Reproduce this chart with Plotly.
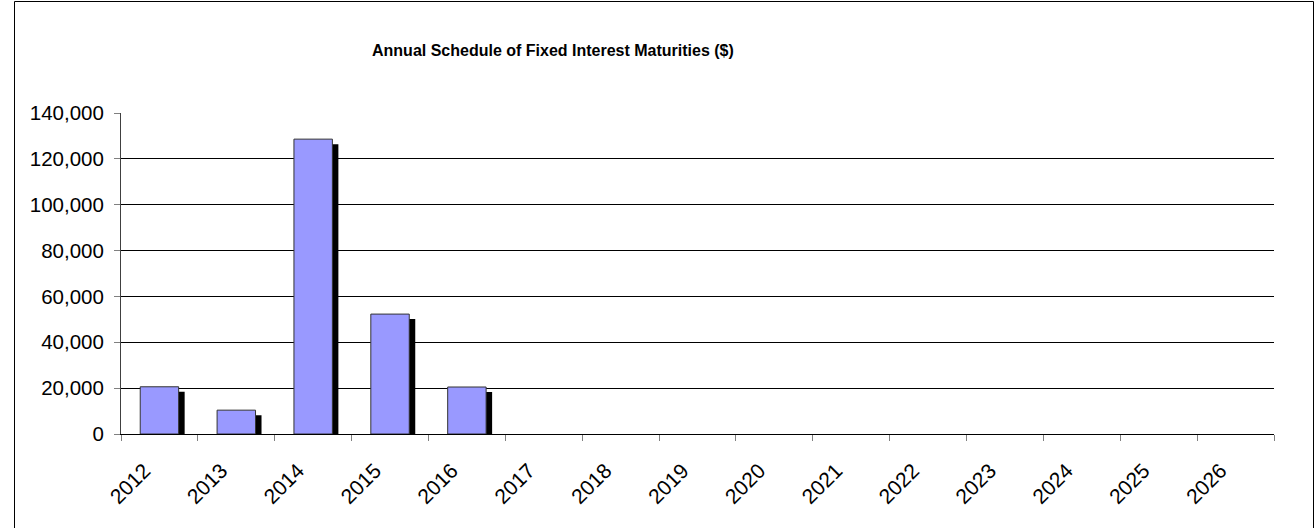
import plotly.graph_objects as go

years = [str(y) for y in range(2012, 2027)]
values = [20600, 10400, 128600, 52300, 20500, 0, 0, 0, 0, 0, 0, 0, 0, 0, 0]
title_text = "Annual Schedule of Fixed Interest Maturities ($)"
y_ticks = [0, 20000, 40000, 60000, 80000, 100000, 120000, 140000]

W, H = 1314, 528
L, T = 121, 113
R = W - 1274
B = H - 434
plot_w = W - L - R
plot_h = H - T - B
y_max = 140000
shadow_drop = 5 * y_max / plot_h  # ~5px shadow depth
cat_px = plot_w / len(years)
bar_w = 0.5
shadow_dx = 6 / cat_px

bar_vals = [v if v > 0 else None for v in values]
shadow_vals = [max(v - shadow_drop, 0) if v > 0 else None for v in values]


def px_x(page_x):
    return (page_x - L) / plot_w


def px_y(page_y):
    return (T + plot_h - page_y) / plot_h


fig = go.Figure()
fig.add_trace(go.Bar(
    x=years, y=shadow_vals, width=bar_w, offset=-bar_w / 2 + shadow_dx,
    marker=dict(color="black", line=dict(width=0)), hoverinfo="skip",
    showlegend=False,
))
fig.add_trace(go.Bar(
    x=years, y=bar_vals, width=bar_w, offset=-bar_w / 2,
    marker=dict(color="#9999FF", line=dict(color="#333333", width=1)),
    showlegend=False,
))

fig.update_layout(
    width=W, height=H,
    margin=dict(l=L, r=R, t=T, b=B, autoexpand=False),
    barmode="overlay",
    paper_bgcolor="white", plot_bgcolor="white",
    font=dict(family="Liberation Sans, Arial, sans-serif", color="black", size=20),
    showlegend=False,
    annotations=[dict(
        text="<b>" + title_text + "</b>", xref="paper", yref="paper",
        x=px_x(553), y=px_y(51),
        xanchor="center", yanchor="middle", showarrow=False,
        font=dict(size=16, family="Liberation Sans, Arial, sans-serif", color="black"),
    )],
    shapes=[dict(
        type="rect", xref="paper", yref="paper",
        x0=px_x(14.5), x1=px_x(1313.5),
        y0=px_y(540), y1=px_y(1.5),
        line=dict(color="black", width=1), fillcolor="rgba(0,0,0,0)", layer="below",
    )],
)

fig.update_xaxes(
    type="category", categoryorder="array", categoryarray=years,
    range=[-0.5, len(years) - 0.5],
    tickangle=-45, tickson="boundaries", ticks="outside", ticklen=6,
    tickcolor="#808080", showline=True, linecolor="black", linewidth=1,
    showgrid=False, zeroline=False, tickfont=dict(size=21),
    ticklabelshift=-15, ticklabelstandoff=15,
)
fig.update_yaxes(
    range=[0, y_max], tickvals=y_ticks,
    ticktext=[f"{v:,}" for v in y_ticks],
    ticks="outside", ticklen=6, tickcolor="#808080",
    showline=True, linecolor="#404040", linewidth=1,
    showgrid=True, gridcolor="black", gridwidth=1, zeroline=False,
    tickfont=dict(size=20.5), ticklabelstandoff=6,
)

fig.write_html("out.html", config={"displayModeBar": False},
               post_script="document.body.style.margin='0';")
